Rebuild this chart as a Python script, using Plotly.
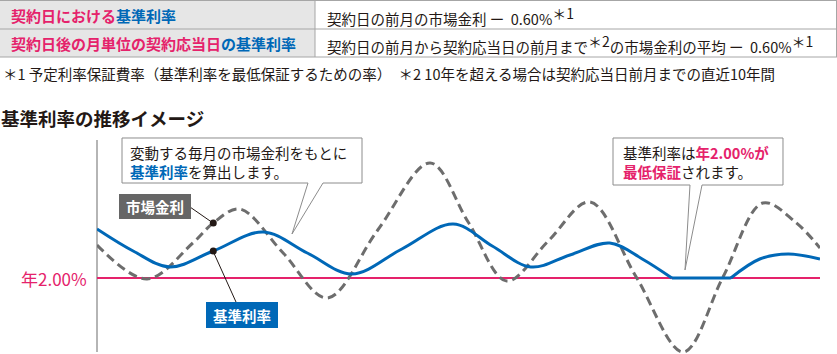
import plotly.graph_objects as go

# ---------------- data ----------------
market_months = [0, 8.3, 15.9, 19.3, 23.7, 30.9, 38.2, 46.6, 55.3, 61.6, 68.0,
                 74.9, 81.8, 89.5, 97.3, 103.9, 110.5, 115.9, 120.0]
market_rate = [2.66, 1.98, 2.70, 3.10, 3.38, 2.50, 1.60, 2.96, 4.30, 3.12, 1.94,
               2.74, 3.52, 2.02, 0.52, 2.02, 3.50, 3.12, 2.60]

base_months = [0, 6.0, 12.1, 19.3, 27.6, 34.9, 42.3, 50.6, 59.1, 65.6, 72.0,
               78.5, 85.1, 90.5, 95.4, 105.2, 110.0, 114.7, 120.0]
base_rate = [2.98, 2.54, 2.22, 2.54, 2.92, 2.50, 2.08, 2.58, 3.08, 2.64, 2.22,
             2.46, 2.70, 2.38, 2.00, 2.00, 2.38, 2.48, 2.38]

guarantee_rate = 2.00
guarantee_label = "年2.00%"
pointer_month = 19.3

PINK = "#e5226b"
BLUE = "#0068b7"
GRAY = "#6d6d6d"
FONT = "Noto Sans CJK JP"

W, H = 837, 354
def X(px):
    return px / W
def Y(py):
    return 1 - py / H

fig = go.Figure()

# guarantee line
fig.add_trace(go.Scatter(x=[market_months[0], market_months[-1]],
                         y=[guarantee_rate, guarantee_rate], mode="lines",
                         line=dict(color=PINK, width=2), hoverinfo="skip"))
# market rate (dashed)
fig.add_trace(go.Scatter(x=market_months, y=market_rate, mode="lines",
                         line=dict(color=GRAY, width=3, dash="9px,5px", shape="spline"),
                         hoverinfo="skip"))
# base rate: floor segment is straight, others smooth
i0 = base_rate.index(guarantee_rate)
i1 = i0 + 1
fig.add_trace(go.Scatter(x=base_months[:i0 + 1], y=base_rate[:i0 + 1], mode="lines",
                         line=dict(color=BLUE, width=3, shape="spline"), hoverinfo="skip"))
fig.add_trace(go.Scatter(x=base_months[i0:i1 + 1], y=base_rate[i0:i1 + 1], mode="lines",
                         line=dict(color=BLUE, width=3), hoverinfo="skip"))
fig.add_trace(go.Scatter(x=base_months[i1:], y=base_rate[i1:], mode="lines",
                         line=dict(color=BLUE, width=3, shape="spline"), hoverinfo="skip"))
# pointer dots
pm = market_rate[market_months.index(pointer_month)]
pb = base_rate[base_months.index(pointer_month)]
fig.add_trace(go.Scatter(x=[pointer_month, pointer_month], y=[pm, pb], mode="markers",
                         marker=dict(color="#231815", size=7), hoverinfo="skip"))

shapes = []
# table
shapes.append(dict(type="rect", xref="paper", yref="paper", x0=X(0), x1=X(315), y0=Y(57), y1=Y(0),
                   fillcolor="#e6e6e6", line=dict(width=0), layer="below"))
for py in [0.5, 29, 57]:
    shapes.append(dict(type="line", xref="paper", yref="paper", x0=X(0), x1=X(837), y0=Y(py), y1=Y(py),
                       line=dict(color="#a6a6a6", width=1)))
for px in [315, 836.5]:
    shapes.append(dict(type="line", xref="paper", yref="paper", x0=X(px), x1=X(px), y0=Y(0), y1=Y(57),
                       line=dict(color="#a6a6a6", width=1)))
# vertical axis line
shapes.append(dict(type="line", xref="paper", yref="paper", x0=X(97), x1=X(97), y0=Y(140), y1=Y(352),
                   line=dict(color="#b5b5b5", width=2), layer="below"))

def path(points):
    s = "M " + " L ".join(f"{X(a):.5f},{Y(b):.5f}" for a, b in points) + " Z"
    return s

# callout 1
shapes.append(dict(type="path", xref="paper", yref="paper",
                   path=path([(122, 138), (362, 138), (362, 183), (323, 183), (292, 234),
                              (308, 183), (122, 183)]),
                   fillcolor="white", line=dict(color="#8c8c8c", width=1)))
# callout 2
shapes.append(dict(type="path", xref="paper", yref="paper",
                   path=path([(613, 138), (783, 138), (783, 185), (702, 185), (685, 270),
                              (690, 185), (613, 185)]),
                   fillcolor="white", line=dict(color="#8c8c8c", width=1)))
# leader lines
shapes.append(dict(type="line", xref="paper", yref="paper", x0=X(190), y0=Y(207), x1=X(213), y1=Y(223),
                   line=dict(color="#231815", width=1)))
shapes.append(dict(type="line", xref="paper", yref="paper", x0=X(236), y0=Y(302), x1=X(213), y1=Y(251),
                   line=dict(color="#231815", width=1)))
# label boxes
shapes.append(dict(type="rect", xref="paper", yref="paper", x0=X(119), x1=X(191), y0=Y(219), y1=Y(194),
                   fillcolor="#666666", line=dict(width=0)))
shapes.append(dict(type="rect", xref="paper", yref="paper", x0=X(206), x1=X(278), y0=Y(328), y1=Y(302),
                   fillcolor=BLUE, line=dict(width=0)))

ann = []
def txt(px, py, text, size, color="#231815", xanchor="left", align="left"):
    ann.append(dict(x=X(px), y=Y(py), xref="paper", yref="paper", text=text, showarrow=False,
                    xanchor=xanchor, yanchor="middle", align=align,
                    font=dict(family=FONT, size=size, color=color)))

def sup(s):
    return f'<sup><span style="font-size:14px">{s}</span></sup>'

txt(9, 15, f'<b><span style="color:{PINK}">契約日における</span><span style="color:{BLUE}">基準利率</span></b>', 15)
txt(9, 43, f'<b><span style="color:{PINK}">契約日後の月単位の契約応当日</span><span style="color:{BLUE}">の基準利率</span></b>', 15)
txt(325, 16, f'契約日の前月の市場金利 ー  0.60%{sup("＊1")}', 14.5)
txt(325, 44, f'契約日の前月から契約応当日の前月まで{sup("＊2")}の市場金利の平均 ー  0.60%{sup("＊1")}', 14.5)
txt(1, 73, '＊1 予定利率保証費率（基準利率を最低保証するための率）　＊2 10年を超える場合は契約応当日前月までの直近10年間', 14.5)
txt(-1, 118, '<b>基準利率の推移イメージ</b>', 18.5)
txt(128, 162, f'変動する毎月の市場金利をもとに<br><b><span style="color:{BLUE}">基準利率</span></b>を算出します。', 14.5)
txt(621, 162, f'基準利率は<b><span style="color:{PINK}">年2.00%が</span></b><br><b><span style="color:{PINK}">最低保証</span></b>されます。', 14.5)
txt(155, 206.5, '<b>市場金利</b>', 14.5, color="white", xanchor="center", align="center")
txt(242, 315, '<b>基準利率</b>', 14.5, color="white", xanchor="center", align="center")
txt(89, 278, guarantee_label, 17, color=PINK, xanchor="right", align="right")

fig.update_layout(
    width=W, height=H, margin=dict(l=0, r=0, t=0, b=0),
    paper_bgcolor="white", plot_bgcolor="rgba(0,0,0,0)", showlegend=False,
    xaxis=dict(visible=False, range=[0, 120], domain=[X(97), X(820)], fixedrange=True),
    yaxis=dict(visible=False, range=[0.48, 4.76], domain=[0, Y(140)], fixedrange=True),
    shapes=shapes, annotations=ann,
)
fig.write_html("out.html", config={"displayModeBar": False})
